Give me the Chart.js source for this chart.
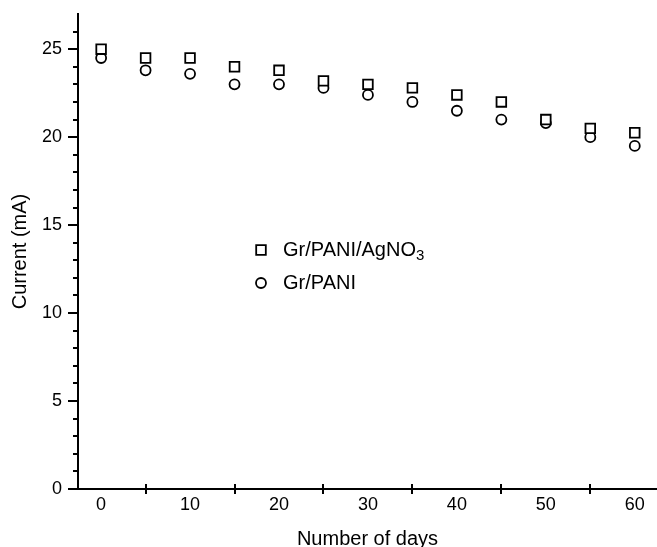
<!DOCTYPE html>
<html>
<head>
<meta charset="utf-8">
<title>Current vs days</title>
<script src="https://cdn.jsdelivr.net/npm/chart.js@4/dist/chart.umd.min.js"></script>
<style>
  html, body { margin: 0; padding: 0; background: #fff; }
  #chart { display: block; }
</style>
</head>
<body>
<canvas id="chart" width="657" height="547"></canvas>
<script>
  const days = [0, 5, 10, 15, 20, 25, 30, 35, 40, 45, 50, 55, 60];
  const grPaniAg = [25.0, 24.5, 24.5, 24.0, 23.8, 23.2, 23.0, 22.8, 22.4, 22.0, 21.0, 20.5, 20.25];
  const grPani = [24.5, 23.8, 23.6, 23.0, 23.0, 22.8, 22.4, 22.0, 21.5, 21.0, 20.8, 20.0, 19.5];
  const xTickValues = [0, 5, 10, 15, 20, 25, 30, 35, 40, 45, 50, 55, 60];
  const seriesLabels = ['Gr/PANI/AgNO₃', 'Gr/PANI'];
  const xTitle = 'Number of days';
  const yTitle = 'Current (mA)';

  const FONT = "'Liberation Sans', Arial, sans-serif";

  function toPoints(values) {
    return days.map((d, i) => ({ x: d, y: values[i] }));
  }

  // no extra room for edge labels, the plot fills the canvas
  function fixBox(scale, size) {
    if (scale.isHorizontal()) scale.height = size;
    else scale.width = size;
    scale.paddingTop = 0;
    scale.paddingBottom = 0;
    scale.paddingLeft = 0;
    scale.paddingRight = 0;
  }

  // tick marks drawn by hand: x ticks cross the axis, y has minor ticks
  const axisTicks = {
    id: 'axisTicks',
    afterDraw(chart) {
      const ctx = chart.ctx;
      const area = chart.chartArea;
      const xs = chart.scales.x;
      const ys = chart.scales.y;
      ctx.save();
      ctx.strokeStyle = '#000';
      ctx.lineWidth = 2;
      ctx.beginPath();
      xs.ticks.forEach(t => {
        if (t.value % 10 === 0) return;
        const px = Math.round(xs.getPixelForValue(t.value));
        ctx.moveTo(px, area.bottom - 5);
        ctx.lineTo(px, area.bottom + 5);
      });
      ys.ticks.forEach(t => {
        if (t.value >= ys.max) return;
        const py = Math.round(ys.getPixelForValue(t.value));
        const len = t.value % 5 === 0 ? 10 : 5;
        ctx.moveTo(area.left - len, py);
        ctx.lineTo(area.left, py);
      });
      ctx.stroke();
      ctx.restore();
    }
  };

  // legend sits inside the plot, with a subscript digit
  const insideLegend = {
    id: 'insideLegend',
    afterDraw(chart, args, opts) {
      const ctx = chart.ctx;
      ctx.save();
      chart.data.datasets.forEach((ds, i) => {
        const y = opts.y + i * opts.rowGap;
        ctx.strokeStyle = ds.borderColor;
        ctx.fillStyle = ds.backgroundColor;
        ctx.lineWidth = ds.borderWidth;
        Chart.helpers.drawPoint(ctx, { pointStyle: ds.pointStyle, radius: ds.pointRadius, borderWidth: ds.borderWidth }, opts.x, y);
        let tx = opts.x + opts.textGap;
        ctx.fillStyle = '#000';
        ctx.textBaseline = 'middle';
        ctx.textAlign = 'left';
        ds.label.split(/([₀-₉])/).forEach(part => {
          if (!part) return;
          const sub = /[₀-₉]/.test(part);
          const txt = sub ? String(part.charCodeAt(0) - 0x2080) : part;
          ctx.font = (sub ? 15 : 20) + 'px ' + FONT;
          ctx.fillText(txt, tx, sub ? y + 6 : y);
          tx += ctx.measureText(txt).width;
        });
      });
      ctx.restore();
    }
  };

  const ctx = document.getElementById('chart').getContext('2d');
  new Chart(ctx, {
    type: 'scatter',
    data: {
      datasets: [
        {
          label: seriesLabels[0],
          data: toPoints(grPaniAg),
          pointStyle: 'rect',
          pointRadius: 6.8,
          borderWidth: 1.8,
          borderColor: '#000',
          backgroundColor: '#fff'
        },
        {
          label: seriesLabels[1],
          data: toPoints(grPani),
          pointStyle: 'circle',
          pointRadius: 5,
          borderWidth: 1.8,
          borderColor: '#000',
          backgroundColor: '#fff'
        }
      ]
    },
    options: {
      responsive: false,
      animation: false,
      layout: { autoPadding: false, padding: { top: 14, right: 0, left: 0, bottom: 0 } },
      plugins: {
        legend: { display: false },
        tooltip: { enabled: false },
        insideLegend: { x: 261, y: 250, rowGap: 33, textGap: 22 }
      },
      scales: {
        x: {
          type: 'linear',
          min: -2.6,
          max: 62.5,
          afterBuildTicks: scale => {
            scale.ticks = xTickValues.map(v => ({ value: v }));
          },
          afterFit: scale => fixBox(scale, 58),
          grid: { display: false, drawTicks: false },
          border: { display: true, color: '#000', width: 2 },
          ticks: {
            autoSkip: false,
            maxRotation: 0,
            padding: 5,
            color: '#000',
            font: { family: FONT, size: 18 },
            callback: v => (v % 10 === 0 ? String(v) : '')
          },
          title: {
            display: true,
            text: xTitle,
            color: '#000',
            font: { family: FONT, size: 20, lineHeight: 1 },
            padding: { top: 0, bottom: -2.4 }
          }
        },
        y: {
          min: 0,
          max: 27,
          afterFit: scale => fixBox(scale, 78),
          grid: { display: false, drawTicks: false },
          border: { display: true, color: '#000', width: 2 },
          ticks: {
            stepSize: 1,
            autoSkip: false,
            padding: 16,
            color: '#000',
            font: { family: FONT, size: 18 },
            callback: v => (v % 5 === 0 ? String(v) : '')
          },
          title: {
            display: true,
            text: yTitle,
            color: '#000',
            font: { family: FONT, size: 20, lineHeight: 1 },
            padding: { top: 10, bottom: 0 }
          }
        }
      }
    },
    plugins: [axisTicks, insideLegend]
  });
</script>
</body>
</html>
